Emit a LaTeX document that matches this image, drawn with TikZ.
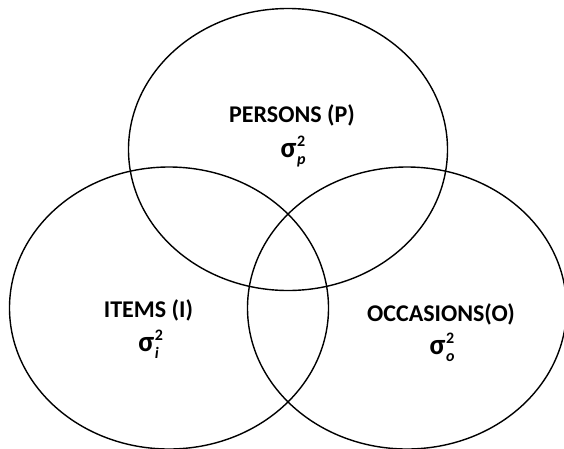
\documentclass[tikz,border=0pt]{standalone}
\usepackage{fontspec}
\setmainfont{Carlito}
\usetikzlibrary{shapes.geometric}
\newcommand{\sigv}[1]{{\fontsize{29}{30}\selectfont σ}\kern0.03em\makebox[0pt][l]{\raisebox{0.45em}{\fontsize{16}{16}\selectfont 2}}\raisebox{-0.32em}{\fontsize{16}{16}\selectfont\itshape #1}}
\begin{document}
\begin{tikzpicture}[x=1pt,y=-1pt,
  vennset/.style={draw, ellipse, line width=1.4pt, minimum width=319pt, minimum height=282pt, inner sep=0pt},
  lbl/.style={font=\fontsize{24}{28}\selectfont\bfseries, inner sep=0pt, anchor=base}]
\useasboundingbox (0,0) rectangle (564,448);
\node[vennset] (P) at (288,149.5) {};
\node[vennset] (I) at (169,308) {};
\node[vennset] (O) at (407,308) {};
\node[lbl] (pt) at (292,122) {PERSONS (P)};
\node[lbl] (ps) at (293,157) {\sigv{p}};
\node[lbl] (it) at (148.5,317) {ITEMS (I)};
\node[lbl] (is) at (148.5,351) {\sigv{i}};
\node[lbl] (ot) at (441,321) {OCCASIONS(O)};
\node[lbl] (os) at (442,354) {\sigv{o}};
\end{tikzpicture}
\end{document}
